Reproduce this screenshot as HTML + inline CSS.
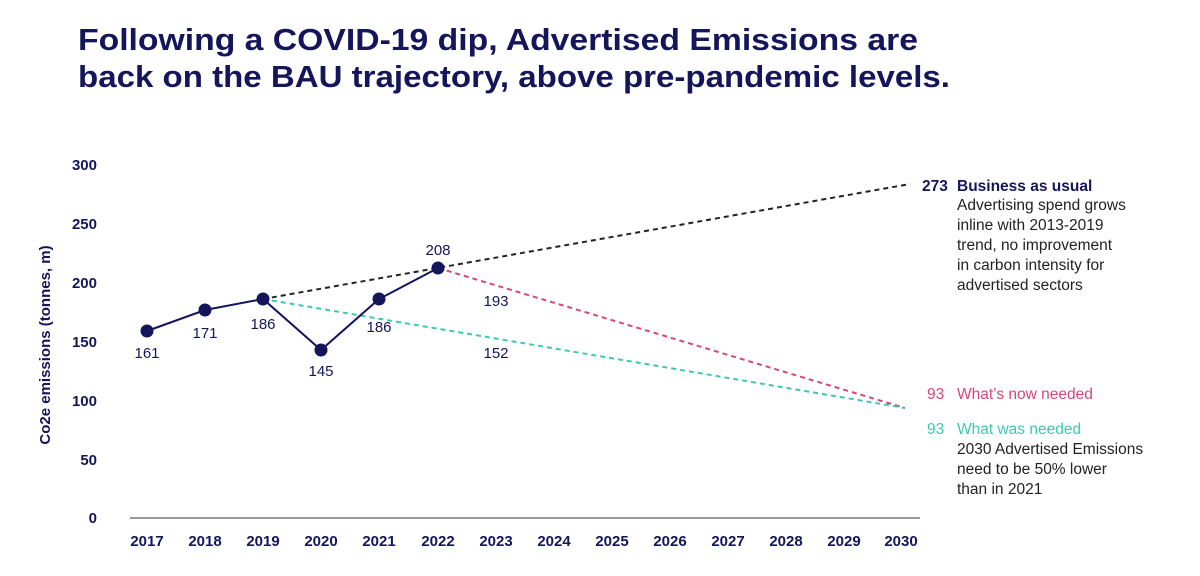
<!DOCTYPE html>
<html><head><style>
body{margin:0;background:#fff;width:1200px;height:571px;overflow:hidden;font-family:"Liberation Sans",sans-serif}
</style></head><body>
<svg width="1200" height="571" xmlns="http://www.w3.org/2000/svg" font-family="Liberation Sans, sans-serif">
<text x="78" y="50" font-size="31" font-weight="bold" fill="#14155a" textLength="840" lengthAdjust="spacingAndGlyphs">Following a COVID-19 dip, Advertised Emissions are</text>
<text x="78" y="87" font-size="31" font-weight="bold" fill="#14155a" textLength="872" lengthAdjust="spacingAndGlyphs">back on the BAU trajectory, above pre-pandemic levels.</text>
<g font-size="15" font-weight="bold" fill="#14155a" text-anchor="end">
<text x="97" y="170">300</text><text x="97" y="229">250</text><text x="97" y="288">200</text>
<text x="97" y="347">150</text><text x="97" y="406">100</text><text x="97" y="465">50</text><text x="97" y="523">0</text>
</g>
<text transform="translate(50,345) rotate(-90)" text-anchor="middle" font-size="15" font-weight="bold" fill="#14155a">Co2e emissions (tonnes, m)</text>
<line x1="130" y1="518" x2="920" y2="518" stroke="#777" stroke-width="1.5"/>
<g font-size="15" font-weight="bold" fill="#14155a" text-anchor="middle">
<text x="147" y="546">2017</text><text x="205" y="546">2018</text><text x="263" y="546">2019</text><text x="321" y="546">2020</text><text x="379" y="546">2021</text><text x="438" y="546">2022</text><text x="496" y="546">2023</text><text x="554" y="546">2024</text><text x="612" y="546">2025</text><text x="670" y="546">2026</text><text x="728" y="546">2027</text><text x="786" y="546">2028</text><text x="844" y="546">2029</text><text x="901" y="546">2030</text>
</g>
<line x1="263" y1="299" x2="910" y2="184" stroke="#222" stroke-width="2" stroke-dasharray="5,4"/>
<line x1="438" y1="268" x2="905" y2="408" stroke="#d6477a" stroke-width="2" stroke-dasharray="5,4"/>
<line x1="263" y1="299" x2="905" y2="408" stroke="#3cc9b0" stroke-width="2" stroke-dasharray="5,4"/>
<polyline points="147,331 205,310 263,299 321,350 379,299 438,268" fill="none" stroke="#14155a" stroke-width="2"/>
<g fill="#14155a">
<circle cx="147" cy="331" r="6.5"/><circle cx="205" cy="310" r="6.5"/><circle cx="263" cy="299" r="6.5"/><circle cx="321" cy="350" r="6.5"/><circle cx="379" cy="299" r="6.5"/><circle cx="438" cy="268" r="6.5"/>
</g>
<g font-size="15" fill="#14155a" text-anchor="middle">
<text x="147" y="358">161</text><text x="205" y="338">171</text><text x="263" y="329">186</text><text x="321" y="376">145</text><text x="379" y="332">186</text><text x="438" y="255">208</text><text x="496" y="306">193</text><text x="496" y="358">152</text>
</g>
<g font-size="15.5">
<text x="922" y="191" fill="#14155a" font-weight="bold">273</text>
<text x="957" y="191" fill="#14155a" font-weight="bold">Business as usual</text>
<g fill="#222"><text x="957" y="210">Advertising spend grows</text><text x="957" y="230">inline with 2013-2019</text><text x="957" y="250">trend, no improvement</text><text x="957" y="270">in carbon intensity for</text><text x="957" y="290">advertised sectors</text></g>
<text x="927" y="399" fill="#d6477a">93</text><text x="957" y="399" fill="#d6477a">What’s now needed</text>
<text x="927" y="434" fill="#3cc9b0">93</text><text x="957" y="434" fill="#3cc9b0">What was needed</text>
<g fill="#222"><text x="957" y="454">2030 Advertised Emissions</text><text x="957" y="474">need to be 50% lower</text><text x="957" y="494">than in 2021</text></g>
</g>
</svg>
</body></html>
